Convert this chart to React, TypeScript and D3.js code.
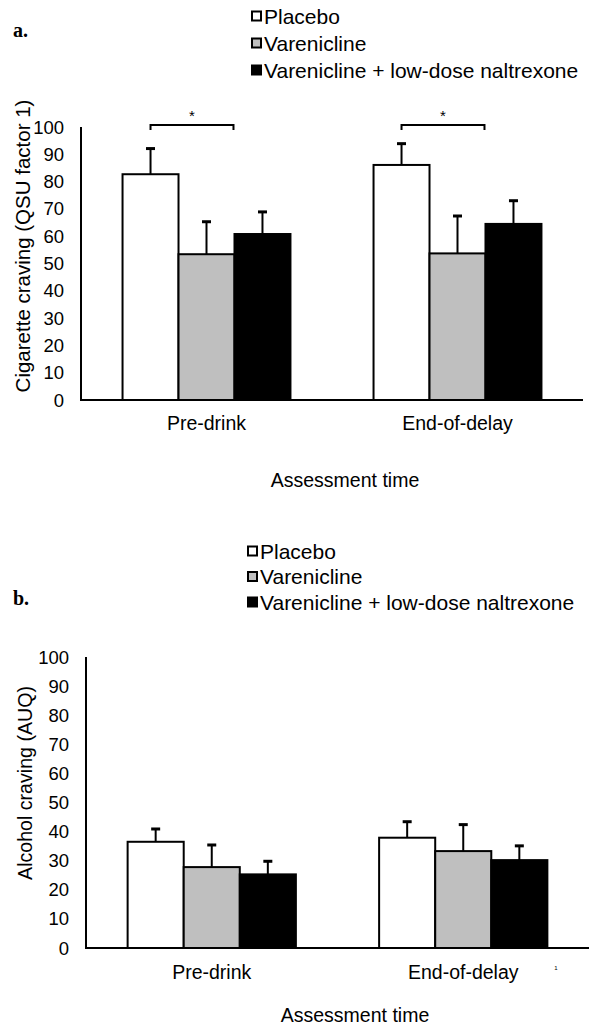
import React from "react";
import * as d3 from "d3";

const categories = ["Pre-drink", "End-of-delay"];
const groups = ["Placebo", "Varenicline", "Varenicline + low-dose naltrexone"];
const groupFills = ["#ffffff", "#bfbfbf", "#000000"];
const yTicks = [0, 10, 20, 30, 40, 50, 60, 70, 80, 90, 100];

// Panel a: cigarette craving (QSU factor 1)
const cigPlacebo = [82.7, 86.1];
const cigVarenicline = [53.4, 53.7];
const cigCombo = [60.8, 64.5];
const cigPlaceboErr = [9.4, 7.8];
const cigVareniclineErr = [11.9, 13.7];
const cigComboErr = [8.1, 8.5];

// Panel b: alcohol craving (AUQ)
const alcPlacebo = [36.5, 37.9];
const alcVarenicline = [27.8, 33.3];
const alcCombo = [25.3, 30.2];
const alcPlaceboErr = [4.4, 5.5];
const alcVareniclineErr = [7.6, 9.1];
const alcComboErr = [4.5, 4.9];

const FONT = "'Liberation Sans', Arial, sans-serif";

type PanelProps = {
  letter: string;
  letterY: number;
  legendX: number;
  legendY: number;
  legendStep: number;
  x0: number;
  x1: number;
  yTop: number;
  yBottom: number;
  yTitle: string;
  yTitleX: number;
  yTitleY: number;
  yTitleSize: number;
  catLabelY: number;
  xTitleY: number;
  xTitleX: number;
  means: number[][];
  errs: number[][];
  brackets: boolean;
  footnote?: boolean;
};

function Panel(p: PanelProps) {
  const y = d3.scaleLinear().domain([0, 100]).range([p.yBottom, p.yTop]);
  const xOuter = d3
    .scaleBand<string>()
    .domain(categories)
    .range([p.x0, p.x1])
    .paddingInner(0.331)
    .paddingOuter(0.1655);
  const xInner = d3
    .scaleBand<string>()
    .domain(groups)
    .range([0, xOuter.bandwidth()])
    .padding(0);
  const bw = xInner.bandwidth();

  return (
    <g>
      <text
        x={13}
        y={p.letterY}
        fontFamily="'Liberation Serif', 'Times New Roman', serif"
        fontWeight="bold"
        fontSize={20}
        dominantBaseline="central"
      >
        {p.letter}
      </text>
      {groups.map((g, i) => (
        <g key={g}>
          <rect
            x={p.legendX}
            y={p.legendY + i * p.legendStep - 4.5}
            width={9}
            height={9}
            fill={groupFills[i]}
            stroke="#000"
            strokeWidth={2}
          />
          <text
            x={p.legendX + 12}
            y={p.legendY + i * p.legendStep}
            fontFamily={FONT}
            fontSize={21}
            dominantBaseline="central"
          >
            {g}
          </text>
        </g>
      ))}
      {yTicks.map((t) => (
        <text
          key={t}
          x={p.x0 - 17}
          y={y(t)}
          textAnchor="end"
          dominantBaseline="central"
          fontFamily={FONT}
          fontSize={18.5}
        >
          {t}
        </text>
      ))}
      <text
        transform={`translate(${p.yTitleX},${p.yTitleY}) rotate(-90)`}
        textAnchor="middle"
        dominantBaseline="central"
        fontFamily={FONT}
        fontSize={p.yTitleSize}
      >
        {p.yTitle}
      </text>
      {categories.map((c, ci) => (
        <g key={c}>
          {groups.map((g, gi) => {
            const bx = (xOuter(c) as number) + (xInner(g) as number);
            const v = p.means[gi][ci];
            const e = p.errs[gi][ci];
            const cx = bx + bw / 2;
            return (
              <g key={g}>
                <rect
                  x={bx}
                  y={y(v)}
                  width={bw}
                  height={y(0) - y(v)}
                  fill={groupFills[gi]}
                  stroke="#000"
                  strokeWidth={2}
                />
                <line x1={cx} x2={cx} y1={y(v)} y2={y(v + e)} stroke="#000" strokeWidth={2} />
                <line x1={cx - 4.5} x2={cx + 4.5} y1={y(v + e)} y2={y(v + e)} stroke="#000" strokeWidth={3} />
              </g>
            );
          })}
          <text
            x={(xOuter(c) as number) + xOuter.bandwidth() / 2}
            y={p.catLabelY}
            textAnchor="middle"
            dominantBaseline="central"
            fontFamily={FONT}
            fontSize={19.5}
          >
            {c}
          </text>
          {p.brackets &&
            (() => {
              const bx1 = (xOuter(c) as number) + (xInner(groups[0]) as number) + bw / 2;
              const bx2 = (xOuter(c) as number) + (xInner(groups[1]) as number) + bw - 1;
              const by = y(100) - 2;
              return (
                <g>
                  <path
                    d={`M${bx1},${by + 5}V${by}H${bx2}V${by + 5}`}
                    fill="none"
                    stroke="#000"
                    strokeWidth={2}
                  />
                  <text
                    x={(bx1 + bx2) / 2}
                    y={by - 4}
                    textAnchor="middle"
                    fontFamily={FONT}
                    fontSize={15}
                  >
                    *
                  </text>
                </g>
              );
            })()}
        </g>
      ))}
      <line x1={p.x0} x2={p.x0} y1={p.yTop} y2={p.yBottom} stroke="#000" strokeWidth={2} />
      <line x1={p.x0 - 1} x2={p.x1} y1={p.yBottom} y2={p.yBottom} stroke="#000" strokeWidth={2} />
      <text
        x={p.xTitleX}
        y={p.xTitleY}
        textAnchor="middle"
        dominantBaseline="central"
        fontFamily={FONT}
        fontSize={19.5}
      >
        Assessment time
      </text>
      {p.footnote && (
        <text x={556} y={968} fontFamily={FONT} fontSize={6} textAnchor="middle" dominantBaseline="central">
          1
        </text>
      )}
    </g>
  );
}

export default function App() {
  return (
    <svg
      width={604}
      height={1031}
      style={{ position: "absolute", left: 0, top: 0, background: "#fff" }}
    >
      <rect x={0} y={0} width={604} height={1031} fill="#fff" />
      <Panel
        letter="a."
        letterY={30}
        legendX={252}
        legendY={16}
        legendStep={27}
        x0={81}
        x1={583}
        yTop={127}
        yBottom={400}
        yTitle="Cigarette craving (QSU factor 1)"
        yTitleX={22}
        yTitleY={246}
        yTitleSize={20.5}
        catLabelY={423}
        xTitleY={480}
        xTitleX={345}
        means={[cigPlacebo, cigVarenicline, cigCombo]}
        errs={[cigPlaceboErr, cigVareniclineErr, cigComboErr]}
        brackets={true}
      />
      <Panel
        letter="b."
        letterY={598}
        legendX={248}
        legendY={551}
        legendStep={25.5}
        x0={86}
        x1={589}
        yTop={657}
        yBottom={948}
        yTitle="Alcohol craving (AUQ)"
        yTitleX={25}
        yTitleY={783}
        yTitleSize={19.6}
        catLabelY={972}
        xTitleY={1015}
        xTitleX={355}
        means={[alcPlacebo, alcVarenicline, alcCombo]}
        errs={[alcPlaceboErr, alcVareniclineErr, alcComboErr]}
        brackets={false}
        footnote={true}
      />
    </svg>
  );
}
